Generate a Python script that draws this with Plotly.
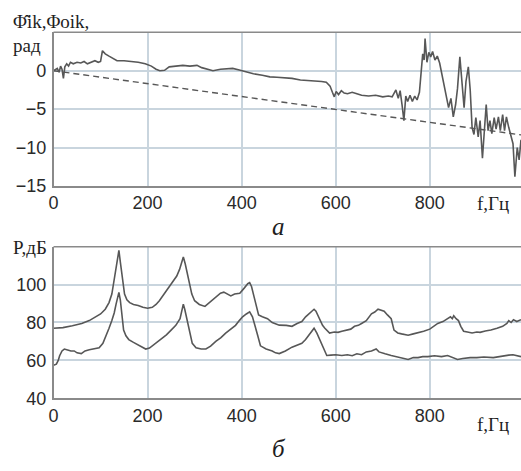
import plotly.graph_objects as go

# ---- panel a: phase ----
phase_f = [0, 8, 12, 15, 18, 21, 24, 28, 32, 36, 42, 50, 58, 65, 72, 80, 88, 95, 100, 104,
           110, 118, 126, 135, 150, 165, 180, 195, 208, 218, 226, 236, 246, 260, 275, 290,
           305, 315, 325, 339, 355, 370, 381, 395, 410, 425, 444, 460, 475, 490, 507, 525,
           540, 555, 570, 580, 588, 593, 597, 601, 606, 612, 618, 625, 635, 645, 655, 670,
           685, 700, 712, 720, 728, 733, 737, 741, 745, 749, 753, 758, 763, 768, 773, 778,
           781, 785, 788, 790, 794, 798, 802, 806, 811, 816, 821, 826, 831, 836, 840, 845,
           850, 855, 859, 864, 869, 873, 877, 882, 886, 890, 894, 898, 903, 907, 912, 916,
           920, 924, 928, 932, 937, 941, 946, 950, 955, 959, 963, 968, 973, 977, 981, 986,
           990, 994]
phase_est = [0, 0.3, -0.2, 0.6, 0.2, -1.0, 0.5, 0.9, 0.6, 1.1, 0.9, 1.1, 1.0, 1.2, 0.9, 1.1,
             1.3, 1.1, 1.2, 2.6, 2.2, 1.9, 1.6, 1.3, 1.3, 1.2, 1.1, 0.9, 0.6, 0.2, 0.0, 0.05,
             0.5, 0.6, 0.7, 0.6, 0.7, 0.4, 0.2, 0.0, 0.2, 0.3, 0.3, 0.1, -0.2, -0.4, -0.6,
             -0.8, -0.85, -0.9, -1.0, -1.2, -1.25, -1.3, -1.4, -1.5, -2.0, -2.8, -3.4, -2.7,
             -3.1, -2.6, -2.9, -3.0, -2.8, -3.0, -3.2, -3.3, -3.2, -3.4, -3.3, -3.4, -2.5,
             -3.6, -2.6, -4.4, -6.5, -3.3, -4.0, -3.2, -4.0, -3.3, -3.8, -2.8, -0.6, 2.2, 1.4,
             4.2, 1.1, 2.4, 1.8, 2.5, 1.4, 1.9, 1.0, -0.5, -2.0, -3.5, -4.8, -3.6, -6.0, -4.4,
             -2.3, 1.8, -2.3, -4.8, -1.4, 0.5, -2.5, -7.4, -8.3, -6.1, -8.6, -6.5, -11.4, -7.5,
             -4.4, -7.8, -6.5, -8.2, -6.1, -7.6, -6.0, -7.8, -5.7, -7.8, -6.0, -7.4, -8.6,
             -9.5, -13.8, -10.0, -11.6, -9.0]
model_f = [0, 1000]
model_phase = [0, -8.4]

# ---- panel б: power ----
p1_f = [0, 20, 40, 60, 76, 90, 100, 110, 118, 124, 128, 132, 136, 139, 142, 145, 148, 151, 156,
        162, 170, 180, 190, 200, 210, 218, 225, 235, 245, 255, 262, 268, 272, 276, 280, 284,
        289, 294, 300, 310, 322, 333, 345, 355, 362, 370, 377, 385, 396, 405, 413, 417, 421,
        427, 432, 436, 444, 455, 465, 480, 495, 507, 518, 528, 536, 543, 550, 554, 558, 562,
        567, 572, 577, 582, 587, 597, 605, 613, 622, 632, 640, 648, 655, 665, 676, 683, 690,
        696, 703, 710, 718, 724, 732, 740, 748, 754, 765, 775, 787, 800, 810, 817, 828, 838,
        844, 848, 851, 856, 861, 866, 872, 880, 890, 900, 907, 918, 930, 943, 955, 964, 968,
        973, 978, 985, 994]
p1 = [77, 77.3, 78.3, 79.5, 81, 82.8, 84.5, 87, 90.5, 95, 101, 108, 114, 118, 112, 106.5, 100,
      95, 92, 90.5, 89.5, 89, 88, 87.5, 88, 89.5, 91.5, 95, 99, 102, 104.5, 108, 111, 114.5,
      111, 106, 100, 95, 91.5, 89.5, 88.5, 91, 93.5, 95.5, 96, 95, 94, 95, 95.4, 98, 100.5,
      101, 99, 93, 87, 84, 83, 82, 80, 78.6, 78.5, 78, 79.5, 80.5, 83, 84.6, 86, 87, 86, 84,
      81, 78.5, 77, 75.5, 74.4, 75, 74.8, 75.4, 76, 76.5, 78, 78.5, 79.5, 81, 84.6, 85.5, 87,
      86.5, 86, 84, 82, 76, 74.5, 74, 73.5, 73.3, 74, 74.5, 75.4, 76.5, 78, 79.5, 80.5, 82,
      83, 82, 83.6, 82, 81, 78, 75.4, 75, 74.5, 75, 74.8, 75.5, 76, 77, 78, 79.5, 81, 80,
      81.5, 80.5, 81.5]
p2_f = [0, 6, 10, 13, 18, 23, 30, 37, 44, 50, 59, 67, 76, 86, 97, 105, 112, 118, 124, 129, 133,
        137, 139, 142, 145, 147, 149, 154, 160, 170, 181, 190, 196, 204, 212, 220, 229, 240,
        250, 260, 269, 273, 276, 279, 282, 286, 290, 295, 303, 314, 324, 334, 345, 356, 366,
        377, 387, 395, 402, 410, 417, 423, 428, 434, 440, 452, 465, 472, 480, 493, 507, 518,
        528, 536, 543, 550, 554, 560, 566, 571, 576, 581, 590, 600, 613, 625, 635, 645, 655,
        665, 676, 686, 692, 697, 705, 718, 730, 742, 754, 765, 775, 785, 796, 810, 825, 838,
        848, 859, 870, 886, 900, 915, 935, 955, 968, 977, 986, 994]
p2 = [57.4, 58, 60, 62.5, 65, 66, 65.5, 65, 65, 64, 63.6, 65, 65.6, 66, 66.7, 69, 72.8, 77, 81,
      85, 89.7, 94, 95.9, 92, 86, 80, 76, 73, 71, 69.5, 68.2, 67, 66, 66.5, 68, 69.5, 71,
      73.5, 76, 78.5, 82, 86, 89.7, 87, 83.6, 78, 73, 69, 66.7, 66, 66, 67.5, 70, 72, 74.4,
      76.5, 78.5, 81, 83, 84.5, 85.6, 83, 79, 73.3, 67.7, 66, 65, 64, 63.6, 65, 67, 68, 69,
      71, 73.3, 75.5, 77, 74.4, 71, 67.7, 65, 62.6, 62.8, 63, 62.6, 63, 62.5, 63.5, 63, 64.5,
      65, 66, 64.5, 64, 63.5, 62.6, 62, 61, 60.5, 61.5, 61.5, 62, 62, 62.5, 62, 62.6, 61.5,
      60.5, 61, 61.5, 61.5, 61.8, 61.5, 62.5, 62.8, 63, 62.5, 62]

x_ticks = [0, 200, 400, 600, 800]
y1_ticks = [0, -5, -10, -15]
y2_ticks = [40, 60, 80, 100]

LINE = "#575757"
GRID = "#c9d5de"
AXIS = "#8a8a8a"
TICKFONT = dict(family="Liberation Sans, Arial", size=18, color="#2a2a2a")
SERIF = "Liberation Serif, DejaVu Serif, serif"

fig = go.Figure()
fig.add_trace(go.Scatter(x=phase_f, y=phase_est, mode="lines",
                         line=dict(color=LINE, width=1.6), xaxis="x", yaxis="y"))
fig.add_trace(go.Scatter(x=model_f, y=model_phase, mode="lines",
                         line=dict(color=LINE, width=1.4, dash="6px,4px"), xaxis="x", yaxis="y"))
fig.add_trace(go.Scatter(x=p1_f, y=p1, mode="lines",
                         line=dict(color=LINE, width=1.6), xaxis="x2", yaxis="y2"))
fig.add_trace(go.Scatter(x=p2_f, y=p2, mode="lines",
                         line=dict(color=LINE, width=1.6), xaxis="x2", yaxis="y2"))

W, H = 521, 471
xdom = [49 / W, 1.0]
top_dom = [1 - 190 / H, 1 - 33 / H]
bot_dom = [1 - 407 / H, 1 - 252 / H]

xcommon = dict(range=[0, 994], tickvals=x_ticks, showgrid=True, gridcolor=GRID, gridwidth=1.5,
               showline=True, linecolor=AXIS, linewidth=1.5, ticks="", tickfont=TICKFONT,
               zeroline=False, domain=xdom, ticklabelstandoff=0)
ycommon = dict(showgrid=True, gridcolor=GRID, gridwidth=1.5, showline=True, linecolor=AXIS,
               linewidth=1.5, ticks="", tickfont=TICKFONT, zeroline=False, ticklabelstandoff=2)

LBL = dict(family=SERIF, size=19, color="#1e1e1e")

fig.update_layout(
    width=W, height=H, margin=dict(l=0, r=0, t=0, b=0),
    paper_bgcolor="white", plot_bgcolor="white", showlegend=False,
    xaxis=dict(**xcommon, anchor="y"),
    yaxis=dict(**ycommon, range=[-15, 5], tickvals=y1_ticks, domain=top_dom, anchor="x"),
    xaxis2=dict(**xcommon, anchor="y2"),
    yaxis2=dict(**ycommon, range=[40, 120], tickvals=y2_ticks, domain=bot_dom, anchor="x2"),
    shapes=[
        dict(type="line", xref="paper", yref="paper", x0=xdom[0], x1=1, y0=top_dom[1], y1=top_dom[1],
             line=dict(color=AXIS, width=1.5)),
        dict(type="line", xref="paper", yref="paper", x0=xdom[0], x1=1, y0=bot_dom[1], y1=bot_dom[1],
             line=dict(color=AXIS, width=1.5)),
    ],
    annotations=[
        dict(text="Φ\u0302ik,Φoik,", x=6, y=22, xref="paper", yref="paper", showarrow=False,
             xanchor="left", yanchor="middle", font=LBL),
        dict(text="рад", x=6, y=46, xref="paper", yref="paper", showarrow=False,
             xanchor="left", yanchor="middle", font=LBL),
        dict(text="P,дБ", x=6, y=253, xref="paper", yref="paper", showarrow=False,
             xanchor="left", yanchor="middle", font=LBL),
        dict(text="f,Гц", x=475, y=208, xref="paper", yref="paper", showarrow=False,
             xanchor="left", yanchor="middle", font=LBL),
        dict(text="f,Гц", x=475, y=434, xref="paper", yref="paper", showarrow=False,
             xanchor="left", yanchor="middle", font=LBL),
        dict(text="<i>a</i>", x=276, y=231, xref="paper", yref="paper", showarrow=False,
             xanchor="center", yanchor="middle", font=dict(family=SERIF, size=25, color="#1e1e1e")),
        dict(text="<i>б</i>", x=277, y=458, xref="paper", yref="paper", showarrow=False,
             xanchor="center", yanchor="middle", font=dict(family=SERIF, size=25, color="#1e1e1e")),
    ],
)

# convert pixel positions of annotations to paper coords
for a in fig.layout.annotations:
    a.x = a.x / W
    a.y = 1 - a.y / H

fig.write_html("out.html")
